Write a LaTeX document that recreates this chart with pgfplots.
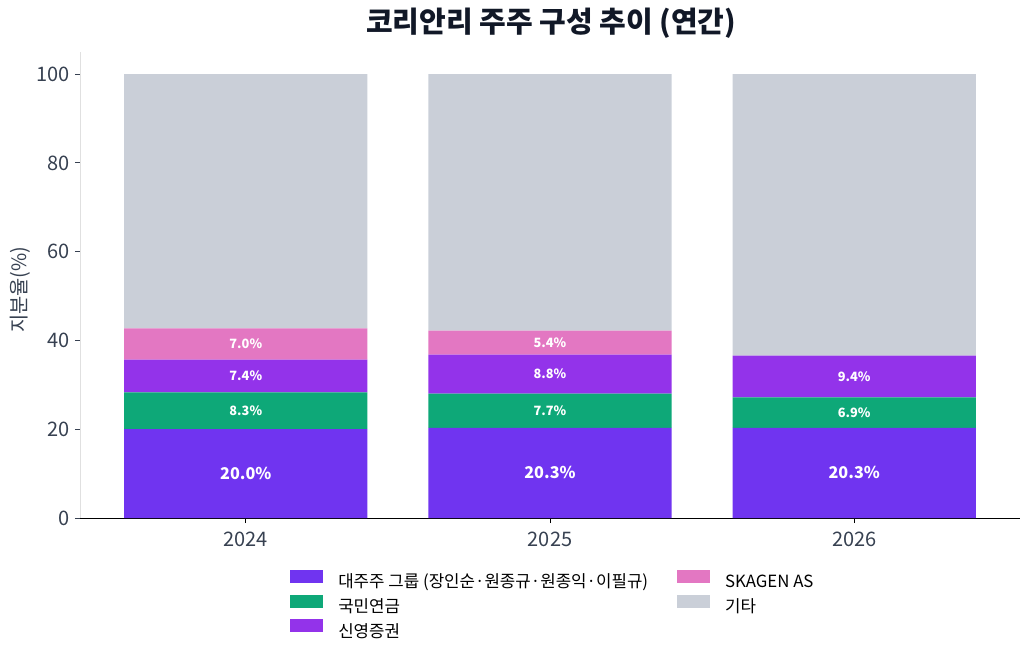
\documentclass[border=0pt]{standalone}
\usepackage{fontspec}
\setmainfont{Noto Sans CJK KR}
\usepackage{pgfplots}
\usepackage{pgfplotstable}
\pgfplotsset{compat=1.18}
\definecolor{cMajor}{HTML}{7034F0}
\definecolor{cNPS}{HTML}{0EA878}
\definecolor{cShin}{HTML}{9333EA}
\definecolor{cSkag}{HTML}{E377C2}
\definecolor{cEtc}{HTML}{CACFD8}
\definecolor{cTxt}{HTML}{374151}
\definecolor{cTitle}{HTML}{111827}

\pgfplotstableread{
x y lab
0 20.0 20.0
1 20.3 20.3
2 20.3 20.3
}\tMajor
\pgfplotstableread{
x y lab
0 8.3 8.3
1 7.7 7.7
2 6.9 6.9
}\tNPS
\pgfplotstableread{
x y lab
0 7.4 7.4
1 8.8 8.8
2 9.4 9.4
}\tShin
\pgfplotstableread{
x y lab
0 7.0 7.0
1 5.4 5.4
2 0.0 0.0
}\tSkag
\pgfplotstableread{
x y
0 57.3
1 57.8
2 63.4
}\tEtc

\begin{document}
\begin{tikzpicture}
\useasboundingbox (0,0) rectangle (515pt,327.5pt);
\node[font=\fontsize{14.5}{17}\selectfont\bfseries, text=cTitle, anchor=center] at (275.5pt,316pt) {코리안리 주주 구성 추이 (연간)};
\begin{axis}[
  at={(40pt,68.5pt)}, anchor=south west,
  scale only axis, width=470pt, height=233pt,
  ybar stacked, bar width=0.8,
  xmin=-0.545, xmax=2.545, ymin=0, ymax=105,
  axis x line*=bottom, axis y line*=left,
  x axis line style={black, line width=0.5pt},
  y axis line style={draw=black!12, line width=0.5pt},
  xtick={0,1,2}, xticklabels={2024,2025,2026},
  ytick={0,20,40,60,80,100},
  tick align=outside, major tick length=2.5pt,
  xtick style={black, line width=0.5pt},
  ytick style={cTxt, line width=0.5pt},
  /pgf/number format/assume math mode=true,
  tick label style={font=\fontsize{10}{12}\selectfont, text=cTxt},
  xticklabel style={yshift=-1pt},
  yticklabel style={xshift=1pt},
  ylabel={지분율(\%)},
  ylabel style={at={(axis description cs:-0.064,0.49)}, anchor=center, font=\fontsize{9.9}{12}\selectfont, text=cTxt},
  legend columns=2,
  legend cell align=left,
  legend style={at={(0.502,-0.11)}, anchor=north, draw=none, fill=none, inner sep=0pt,
    font=\fontsize{8.4}{10}\selectfont,
    nodes={inner sep=0pt, text height=6.5pt, text depth=1.5pt},
    row sep=2pt,
    /tikz/every odd column/.append style={column sep=7.5pt},
    /tikz/every even column/.append style={column sep=14.5pt}},
  legend image code/.code={\fill[#1] (0pt,-0.05pt) rectangle (16.5pt,6.45pt);},
  every node near coord/.append style={anchor=center, text=white, font=\fontsize{6.4}{8}\selectfont\bfseries},
  visualization depends on={\thisrow{y} \as \rawy},
  clip=false,
]
\addplot[fill=cMajor, draw=none, forget plot,
  point meta=explicit symbolic,
  nodes near coords={\pgfplotspointmeta\%},
  every node near coord/.append style={font=\fontsize{8.1}{10}\selectfont\bfseries}]
  table[x=x, y=y, meta=lab] {\tMajor};
\addplot[fill=cNPS, draw=none, forget plot,
  point meta=explicit symbolic,
  nodes near coords={\pgfplotspointmeta\%}]
  table[x=x, y=y, meta=lab] {\tNPS};
\addplot[fill=cShin, draw=none, forget plot,
  point meta=explicit symbolic,
  nodes near coords={\pgfplotspointmeta\%}]
  table[x=x, y=y, meta=lab] {\tShin};
\addplot[fill=cSkag, draw=none, forget plot,
  point meta=explicit symbolic,
  nodes near coords={\ifdim\rawy pt>0.05pt\pgfplotspointmeta\%\fi}]
  table[x=x, y=y, meta=lab] {\tSkag};
\addplot[fill=cEtc, draw=none, forget plot]
  table[x=x, y=y] {\tEtc};
\addlegendimage{fill=cMajor, draw=none}
\addlegendentry{대주주 그룹 (장인순·원종규·원종익·이필규)}
\addlegendimage{fill=cSkag, draw=none}
\addlegendentry{SKAGEN AS}
\addlegendimage{fill=cNPS, draw=none}
\addlegendentry{국민연금}
\addlegendimage{fill=cEtc, draw=none}
\addlegendentry{기타}
\addlegendimage{fill=cShin, draw=none}
\addlegendentry{신영증권}
\end{axis}
\end{tikzpicture}
\end{document}
